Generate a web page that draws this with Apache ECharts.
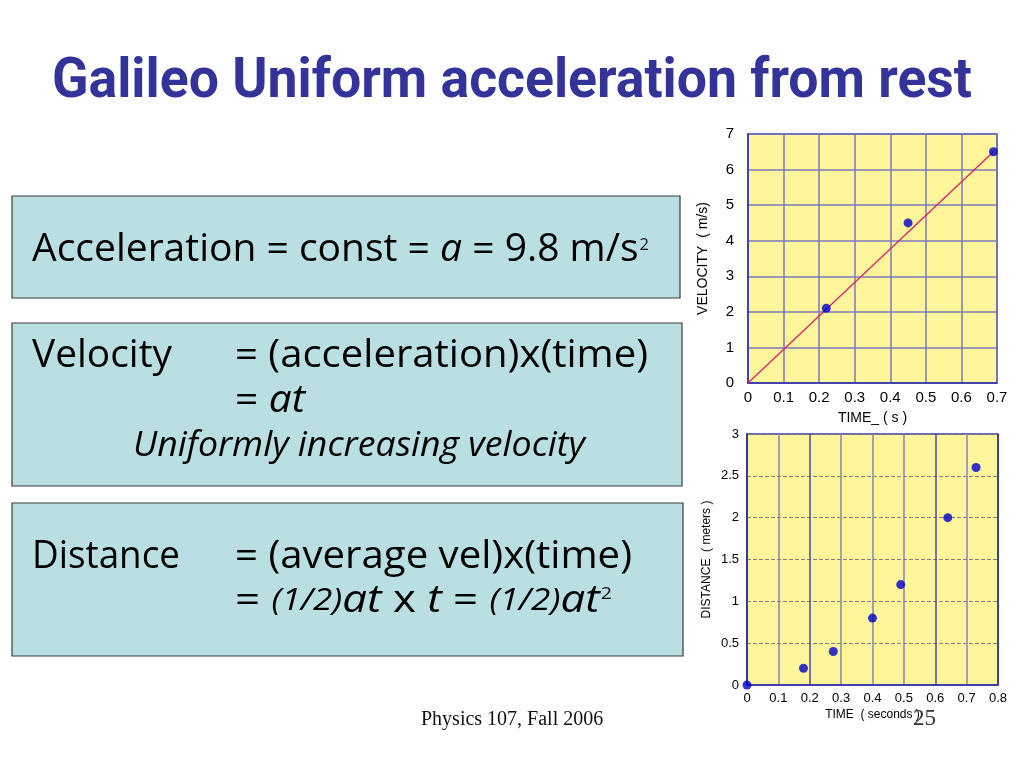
<!DOCTYPE html>
<html><head><meta charset="utf-8">
<script src="https://cdn.jsdelivr.net/npm/echarts@6/dist/echarts.min.js"></script>
<style>html,body{margin:0;padding:0;background:#fff}#c{width:1024px;height:768px}</style>
</head><body><div id="c"></div>
<script>
// ---- data ----
const titleText = 'Galileo Uniform acceleration from rest';
const velTime = [0.22, 0.45, 0.69];
const velValue = [2.1, 4.5, 6.5];
const fitTime = [0, 0.69];
const fitValue = [0, 6.5];
const distTime = [0, 0.18, 0.275, 0.40, 0.49, 0.64, 0.73];
const distValue = [0, 0.2, 0.4, 0.8, 1.2, 2.0, 2.6];
const velAxisX = {min: 0, max: 0.7, interval: 0.1, name: 'TIME_ ( s )'};
const velAxisY = {min: 0, max: 7, interval: 1, name: 'VELOCITY  ( m/s)'};
const distAxisX = {min: 0, max: 0.8, interval: 0.1, name: 'TIME  ( seconds )'};
const distAxisY = {min: 0, max: 3, interval: 0.5, name: 'DISTANCE  ( meters )'};
const footerText = 'Physics 107, Fall 2006';
const pageNumber = '25';

// ---- helpers ----
const BODY = 'Open Sans';
const TITLE_FONT = 'Roboto';
const cv = document.createElement('canvas').getContext('2d');
function measure(t, st) {
  cv.font = (st.fontStyle || 'normal') + ' ' + (st.fontWeight || 'normal') + ' ' + st.fontSize + 'px "' + st.fontFamily + '"';
  return cv.measureText(t).width;
}
// segs: [text, style]; sup: optional [text, fontSize, centerY]
function textLine(segs, x, baseline, targetW, S, sup) {
  const L = S * 1.3;
  const defs = {
    n: {fontSize: S},
    i: {fontSize: S, fontStyle: 'italic'},
    si: {fontSize: S * 0.8, fontStyle: 'italic'},
    ui: {fontSize: S * 0.92, fontStyle: 'italic'}
  };
  const rich = {};
  let w = 0, str = '';
  segs.forEach(function (sg) {
    const d = Object.assign({fontFamily: BODY, color: '#111', lineHeight: L}, defs[sg[1]]);
    rich[sg[1]] = d;
    w += measure(sg[0], d);
    str += '{' + sg[1] + '|' + sg[0] + '}';
  });
  let supW = 0;
  if (sup) supW = measure(sup[0], {fontFamily: BODY, fontSize: sup[1]}) + 1;
  const k = targetW / (w + supW);
  const out = [{
    type: 'text', x: x, y: baseline - 0.37 * S, scaleX: k, z: 10,
    style: {text: str, rich: rich, verticalAlign: 'middle', align: 'left', fontFamily: BODY, fontSize: S}
  }];
  if (sup) {
    out.push({
      type: 'text', x: x + k * (w + 1), y: sup[2], scaleX: k, z: 10,
      style: {text: sup[0], fill: '#111', verticalAlign: 'middle', align: 'left', fontFamily: BODY, fontSize: sup[1]}
    });
  }
  return out;
}
function plainText(t, x, baseline, targetW, st, color) {
  const w = measure(t, st);
  return {
    type: 'text', x: x, y: baseline - 0.36 * st.fontSize, scaleX: targetW ? targetW / w : 1, z: 20,
    style: {text: t, fill: color, verticalAlign: 'middle', align: 'left',
      fontFamily: st.fontFamily, fontSize: st.fontSize, fontWeight: st.fontWeight || 'normal'}
  };
}
function box(x, y, w, h) {
  return {type: 'rect', shape: {x: x, y: y, width: w, height: h}, z: 5,
    style: {fill: '#b9dfe2', stroke: '#3a3a3a', lineWidth: 1.2}};
}
const S = 38;
const graphics = [].concat(
  [plainText(titleText, 52, 103, 920, {fontFamily: TITLE_FONT, fontSize: 56, fontWeight: 'bold'}, '#333399'),
  box(12, 196, 668, 102),
  box(12, 323, 670, 163),
  box(12, 503, 671, 153)],
  textLine([['Acceleration = const = ', 'n'], ['a', 'i'], [' = 9.8 m/s', 'n']], 32, 264, 617, S, ['2', 16, 245.5]),
  textLine([['Velocity', 'n']], 32, 370, 140, S),
  textLine([['= (acceleration)x(time)', 'n']], 235, 370, 413, S),
  textLine([['= ', 'n'], ['at', 'i']], 235, 415, 70, S),
  textLine([['Uniformly increasing velocity', 'ui']], 133, 460, 452, S),
  textLine([['Distance', 'n']], 32, 571, 148, S),
  textLine([['= (average vel)x(time)', 'n']], 235, 571, 397, S),
  textLine([['= ', 'n'], ['(1/2)', 'si'], ['at', 'i'], [' x ', 'n'], ['t', 'i'], [' = ', 'n'], ['(1/2)', 'si'], ['at', 'i']], 235, 615, 377, S, ['2', 17, 594]),
  [plainText(footerText, 421, 727, 0, {fontFamily: 'Liberation Serif', fontSize: 20}, '#111'),
  plainText(pageNumber, 913, 727, 0, {fontFamily: 'Liberation Serif', fontSize: 23}, '#333')]
);

const AX = 'Liberation Sans';
function xAxis(cfg, gi, fs, margin, gap, splitColors) {
  return {
    gridIndex: gi, type: 'value', min: cfg.min, max: cfg.max, interval: cfg.interval,
    name: cfg.name, nameLocation: 'middle', nameGap: gap,
    nameTextStyle: {fontSize: fs - 1, color: '#000', fontFamily: AX},
    axisLine: {show: true, onZero: false, lineStyle: {color: '#3333aa', width: 1.5}},
    axisTick: {show: false},
    axisLabel: {fontSize: fs, color: '#000', margin: margin, fontFamily: AX},
    splitLine: {show: true, lineStyle: {color: splitColors, width: 1.5}}
  };
}
function yAxis(cfg, gi, fs, margin, gap, lineStyle) {
  return {
    gridIndex: gi, type: 'value', min: cfg.min, max: cfg.max, interval: cfg.interval,
    name: cfg.name, nameLocation: 'middle', nameGap: gap,
    nameTextStyle: {fontSize: fs - 1, color: '#000', fontFamily: AX},
    axisLine: {show: true, onZero: false, lineStyle: {color: '#3333aa', width: 1.5}},
    axisTick: {show: false},
    axisLabel: {fontSize: fs, color: '#000', margin: margin, fontFamily: AX},
    splitLine: {show: true, lineStyle: lineStyle}
  };
}
const zip = (a, b) => a.map((v, i) => [v, b[i]]);

const chart = echarts.init(document.getElementById('c'), null, {renderer: 'canvas'});
chart.setOption({
  animation: false,
  backgroundColor: '#ffffff',
  graphic: graphics,
  grid: [
    {left: 748, top: 134, width: 249, height: 249, show: true, backgroundColor: '#fff69b', borderColor: '#3333aa', borderWidth: 1.5},
    {left: 747, top: 434, width: 251, height: 251, show: true, backgroundColor: '#fff69b', borderColor: '#3333aa', borderWidth: 1.5}
  ],
  xAxis: [
    xAxis(velAxisX, 0, 15, 7, 28, '#7a7ab8'),
    xAxis(distAxisX, 1, 13, 7, 24, ['#3333aa', '#8585b8', '#4a4aa8', '#8585b8', '#8585b8', '#8585b8', '#4a4aa8', '#8585b8', '#3333aa'])
  ],
  yAxis: [
    yAxis(velAxisY, 0, 15, 14, 38, {color: '#7a7ab8', width: 1.5}),
    yAxis(distAxisY, 1, 13, 8, 34, {color: '#808080', width: 1.2, type: [4, 2]})
  ],
  series: [
    {type: 'line', xAxisIndex: 0, yAxisIndex: 0, data: zip(fitTime, fitValue), symbol: 'none',
      lineStyle: {color: '#e0206a', width: 1.3}, z: 3},
    {type: 'scatter', xAxisIndex: 0, yAxisIndex: 0, data: zip(velTime, velValue), symbolSize: 9,
      itemStyle: {color: '#0000cc'}, clip: false, z: 4},
    {type: 'scatter', xAxisIndex: 1, yAxisIndex: 1, data: zip(distTime, distValue), symbolSize: 9,
      itemStyle: {color: '#0000cc'}, clip: false, z: 4}
  ]
});
</script>
</body></html>
